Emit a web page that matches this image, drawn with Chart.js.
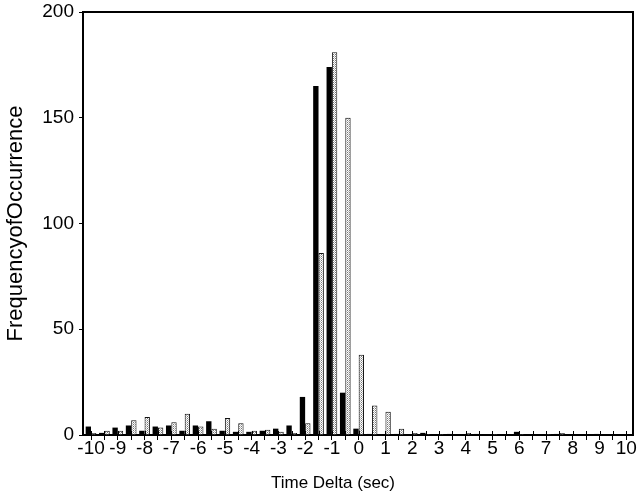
<!DOCTYPE html>
<html>
<head>
<meta charset="utf-8">
<script src="https://cdn.jsdelivr.net/npm/chart.js@4"></script>
<style>
  html, body { margin: 0; padding: 0; background: #fff; }
  canvas { display: block; }
</style>
</head>
<body>
<canvas id="deltaChart" width="638" height="497"></canvas>
<script>
// bins are 0.5 sec wide, centred on the tick marks
const timeBins = [
  -10, -9.5, -9, -8.5, -8, -7.5, -7, -6.5, -6, -5.5, -5, -4.5, -4, -3.5,
  -3, -2.5, -2, -1.5, -1, -0.5, 0, 0.5, 1, 1.5, 2, 2.5, 3, 3.5, 4, 4.5,
  5, 5.5, 6, 6.5, 7, 7.5, 8, 8.5, 9, 9.5, 10
];
// solid black bars (left of each bin)
const blackCounts = [
  4, 1, 3.5, 4.5, 2, 4, 4.5, 2, 4.5, 6.5, 2, 1.5, 1.5, 2,
  3, 4.5, 18, 165, 174, 20, 3, 0.5, 0, 0.5, 0, 1, 0, 0.5, 0, 0.5,
  0, 0, 1.5, 0, 0, 0.5, 0, 0, 0.5, 0, 0
];
// light stippled bars (right of each bin)
const lightCounts = [
  1, 2, 2, 7, 8.5, 3.5, 6, 10, 4, 3, 8, 5.5, 2, 2.5,
  1.5, 1, 5.5, 86, 181, 150, 38, 14, 11, 3, 1, 0.5, 0.5, 0, 1, 0,
  0.5, 0, 0.5, 0, 0.5, 1, 0, 0, 0, 0, 0
];
const yTicks = [0, 50, 100, 150, 200];

const FONT = "Liberation Sans, Arial, sans-serif";

// white fill with grey dots, like the scanned stipple
const makeStipple = () => {
  const c = document.createElement("canvas");
  c.width = 2;
  c.height = 2;
  const g = c.getContext("2d");
  g.fillStyle = "#fff";
  g.fillRect(0, 0, 2, 2);
  g.fillStyle = "#777";
  g.fillRect(1, 0, 1, 1);
  g.fillStyle = "#bbb";
  g.fillRect(0, 1, 1, 1);
  return g.createPattern(c, "repeat");
};

const frameBox = {
  id: "frameBox",
  afterDraw(chart) {
    const { ctx, chartArea: a } = chart;
    const xScale = chart.scales.x;
    ctx.save();
    ctx.strokeStyle = "#000";
    ctx.lineWidth = 2;
    ctx.beginPath();
    ctx.moveTo(a.left, a.top);
    ctx.lineTo(a.right, a.top);
    ctx.lineTo(a.right, a.bottom);
    ctx.stroke();

    // tick marks poke a little into the plot too
    ctx.lineWidth = 1;
    xScale.ticks.forEach((t) => {
      const px = Math.round(xScale.getPixelForValue(t.value)) + 0.5;
      ctx.beginPath();
      ctx.moveTo(px, a.bottom - 4);
      ctx.lineTo(px, a.bottom);
      ctx.stroke();
    });

    // x axis caption sits a bit left of centre in the original
    ctx.fillStyle = "#000";
    ctx.font = "17px " + FONT;
    ctx.textAlign = "center";
    ctx.textBaseline = "middle";
    ctx.fillText("Time Delta (sec)", (a.left + a.right) / 2 - 25, 483);
    ctx.restore();
  },
};

const ctx = document.getElementById("deltaChart").getContext("2d");

new Chart(ctx, {
  type: "bar",
  data: {
    datasets: [
      {
        label: "black",
        data: timeBins.map((t, i) => ({ x: t, y: blackCounts[i] })),
        backgroundColor: "#000",
        borderWidth: 0,
      },
      {
        label: "light",
        data: timeBins.map((t, i) => ({ x: t, y: lightCounts[i] })),
        backgroundColor: makeStipple(),
        borderColor: "#111",
        borderWidth: 1,
      },
    ],
  },
  options: {
    responsive: false,
    animation: false,
    categoryPercentage: 0.8,
    barPercentage: 1.0,
    layout: { padding: { top: 12, right: 5, left: 0, bottom: 0 } },
    scales: {
      x: {
        type: "linear",
        min: -10.3,
        max: 10.25,
        offset: false,
        afterBuildTicks: (s) => {
          s.ticks = timeBins.map((v) => ({ value: v }));
        },
        afterFit: (s) => {
          s.height = 62;
          s.paddingLeft = 0;
          s.paddingRight = 0;
        },
        ticks: {
          autoSkip: false,
          maxRotation: 0,
          padding: -3,
          color: "#000",
          font: { size: 19, family: FONT },
          callback: (v) => (Math.abs(v - Math.round(v)) < 1e-6 ? Math.round(v) : ""),
        },
        grid: {
          offset: false,
          drawOnChartArea: false,
          drawTicks: true,
          tickLength: 5,
          color: "#000",
        },
        border: { color: "#000", width: 2 },
      },
      y: {
        min: 0,
        max: 200,
        afterBuildTicks: (s) => {
          s.ticks = yTicks.map((v) => ({ value: v }));
        },
        afterFit: (s) => {
          s.width = 83;
          s.paddingTop = 0;
          s.paddingBottom = 0;
        },
        ticks: {
          padding: 5,
          color: "#000",
          font: { size: 19, family: FONT },
        },
        grid: {
          drawOnChartArea: false,
          tickLength: 4,
          color: "#000",
        },
        border: { color: "#000", width: 2 },
        title: {
          display: true,
          text: "FrequencyofOccurrence",
          color: "#000",
          font: { size: 22, family: FONT },
          padding: { top: 3, bottom: 0 },
        },
      },
    },
    plugins: {
      legend: { display: false },
      tooltip: { enabled: false },
    },
  },
  plugins: [frameBox],
});
</script>
</body>
</html>
